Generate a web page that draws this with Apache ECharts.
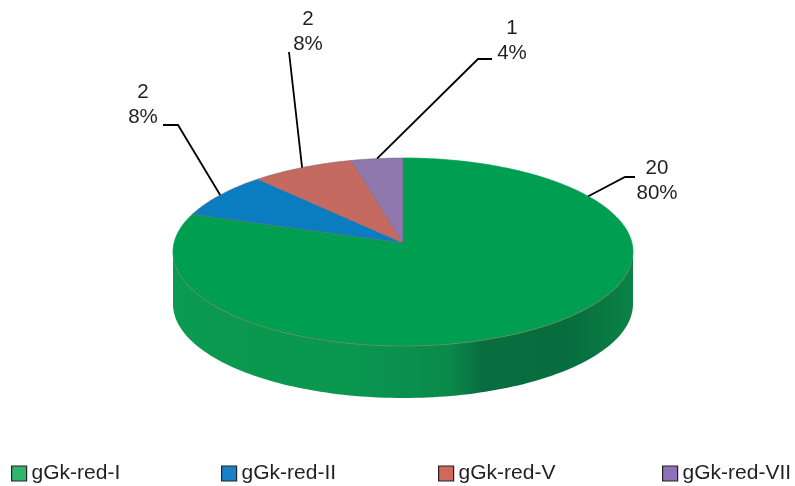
<!DOCTYPE html>
<html>
<head>
<meta charset="utf-8">
<style>html,body{margin:0;padding:0;background:#fff}#c{width:795px;height:486px}</style>
<script src="https://cdn.jsdelivr.net/npm/echarts@6/dist/echarts.min.js"></script>
</head>
<body>
<div id="c"></div>
<script>
var categories = ['gGk-red-I', 'gGk-red-II', 'gGk-red-V', 'gGk-red-VII'];
var counts = [20, 2, 2, 1];

var sliceColors = ['#009e50', '#0a7cc0', '#c46a60', '#8f78ae'];
var swatchColors = ['#2fb56c', '#1a80c8', '#d0695c', '#8c72b8'];
var legendLefts = [6, 216, 433, 657];
var LEGEND_TOP = 458;

// pie geometry (screen pixels)
var CX = 403, CY = 252, RX = 230, RY = 94, DEPTH = 52, PERSP = 0.9;
var APEX_Y = 243;

// leader routes and text placement
var leaderRoutes = [
  [[625, 177], [635, 177]],
  [[178, 125], [163, 125]],
  [[289, 52]],
  [[478, 59], [492, 59]]
];
var labelCentres = [[657, 181], [143, 105], [308, 32], [512, 41]];
// the largest slice's leader leaves from the upper right of the rim, not from its middle
var anchorFractions = [0.163, null, null, null];

var total = counts.reduce(function (a, b) { return a + b; }, 0);

// Fraction of the pie clockwise from 12 o'clock -> point on the foreshortened rim.
function rimParam(f) {
  var t = f * Math.PI * 2;
  var half = t / 2;
  var k = Math.abs(Math.cos(half));
  if (k < 1e-9) return Math.PI;
  var phi = 2 * Math.atan(Math.tan(half) * PERSP);
  return phi < 0 ? phi + Math.PI * 2 : phi;
}
function rimAt(phi, dy) {
  return [CX + RX * Math.sin(phi), CY - RY * Math.cos(phi) + (dy || 0)];
}
function cumBefore(i) {
  var s = 0;
  for (var k = 0; k < i; k++) s += counts[k];
  return s;
}

function makeRender(i) {
  return function (params, api) {
    var value = api.value(0);
    var from = cumBefore(i) / total;
    var to = from + value / total;
    var children = [];

    if (i === 0) {
      var wall = [], lower = [];
      for (var a = 0; a <= 120; a++) {
        var p = Math.PI / 2 + Math.PI * a / 120;
        wall.push(rimAt(p));
        lower.unshift(rimAt(p, DEPTH));
      }
      children.push({
        type: 'polygon',
        shape: { points: wall.concat(lower) },
        style: {
          fill: new echarts.graphic.LinearGradient(0, 0, 1, 0, [
            { offset: 0, color: '#0a9a50' },
            { offset: 0.4, color: '#0a964f' },
            { offset: 0.6, color: '#0a8a4b' },
            { offset: 0.67, color: '#086e40' },
            { offset: 0.85, color: '#076c3e' },
            { offset: 1, color: '#0b8246' }
          ])
        }
      });
    }

    var pts = [[CX, APEX_Y]];
    var phiFrom = rimParam(from), phiTo = to >= 1 ? Math.PI * 2 : rimParam(to);
    var steps = Math.max(4, Math.round((phiTo - phiFrom) * 60));
    for (var s = 0; s <= steps; s++) {
      pts.push(rimAt(phiFrom + (phiTo - phiFrom) * s / steps));
    }
    children.push({
      type: 'polygon',
      shape: { points: pts },
      style: { fill: sliceColors[i], stroke: i === 0 ? sliceColors[i] : 'rgba(110,100,120,0.7)', lineWidth: 0.7 }
    });

    if (i === 0) {
      var seam = [];
      for (var b = 5; b <= 115; b++) seam.push(rimAt(Math.PI / 2 + Math.PI * b / 120));
      children.push({
        type: 'polyline',
        shape: { points: seam },
        style: { fill: null, stroke: 'rgba(150,125,90,0.75)', lineWidth: 0.8 }
      });
    }

    var af = anchorFractions[i] != null ? anchorFractions[i] : (from + to) / 2;
    var leader = [rimAt(rimParam(af))].concat(leaderRoutes[i]);
    children.push({
      type: 'polyline',
      shape: { points: leader },
      style: { fill: null, stroke: '#000', lineWidth: 1.8 }
    });

    children.push({
      type: 'text',
      style: {
        x: labelCentres[i][0],
        y: labelCentres[i][1],
        text: value + '\n' + Math.round(value / total * 100) + '%',
        align: 'center',
        verticalAlign: 'middle',
        font: '20.5px "Liberation Sans", Arial, sans-serif',
        lineHeight: 24.5,
        fill: '#231f20'
      }
    });

    return { type: 'group', children: children };
  };
}

var chart = echarts.init(document.getElementById('c'), null, { renderer: 'canvas' });
chart.setOption({
  animation: false,
  backgroundColor: '#fff',
  tooltip: { show: false },
  legend: categories.map(function (name, i) {
    return {
      left: legendLefts[i],
      top: LEGEND_TOP,
      orient: 'horizontal',
      selectedMode: false,
      icon: 'rect',
      itemWidth: 15,
      itemHeight: 15,
      textStyle: { fontFamily: '"Liberation Sans", Arial, sans-serif', fontSize: 21, color: '#231f20' },
      data: [{
        name: name,
        itemStyle: { color: swatchColors[i], borderColor: '#222', borderWidth: 1.2 }
      }]
    };
  }),
  series: categories.map(function (name, i) {
    return {
      type: 'custom',
      name: name,
      coordinateSystem: 'none',
      silent: true,
      itemStyle: { color: swatchColors[i] },
      data: [[counts[i]]],
      renderItem: makeRender(i)
    };
  })
});
</script>
</body>
</html>
